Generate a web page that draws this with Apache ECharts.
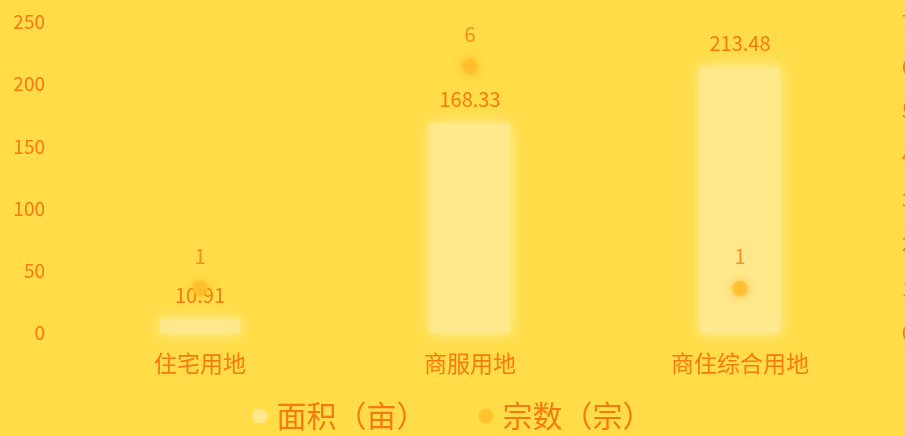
<!DOCTYPE html>
<html><head><meta charset="utf-8">
<script src="https://cdn.jsdelivr.net/npm/echarts@6/dist/echarts.min.js"></script>
<style>html,body{margin:0;padding:0;background:#FFDC48;}#c{width:905px;height:436px;}</style>
</head><body><div id="c"></div>
<script>
const categories = ['住宅用地', '商服用地', '商住综合用地'];
const areaValues = [10.91, 168.33, 213.48];
const countValues = [1, 6, 1];
const seriesNames = ['面积（亩）', '宗数（宗）'];
const textColor = '#F57A10';
const font = '"Noto Sans CJK SC", "Noto Sans", sans-serif';
const chart = echarts.init(document.getElementById('c'));
chart.setOption({
  backgroundColor: '#FFDC48',
  textStyle: { fontFamily: font },
  grid: { left: 65, right: 30, top: 22, bottom: 103, outerBoundsMode: 'none', containLabel: false },
  legend: {
    bottom: 0, left: 'center',
    itemGap: 52, itemWidth: 15, itemHeight: 15,
    icon: 'circle',
    textStyle: { color: textColor, fontSize: 30, fontFamily: font, padding: [0, 0, 0, 4] },
    data: seriesNames
  },
  xAxis: {
    type: 'category', data: categories,
    axisLine: { show: false }, axisTick: { show: false },
    axisLabel: { color: textColor, fontSize: 23, margin: 19, fontFamily: font }
  },
  yAxis: [{
    type: 'value', min: 0, max: 250, interval: 50,
    axisLine: { show: false }, axisTick: { show: false }, splitLine: { show: false },
    axisLabel: { color: textColor, fontSize: 19, margin: 20 }
  }, {
    type: 'value', min: 0, max: 7, interval: 1,
    axisLine: { show: false }, axisTick: { show: false }, splitLine: { show: false },
    axisLabel: { color: textColor, fontSize: 19, margin: 27 }
  }],
  series: [{
    name: seriesNames[0], type: 'bar', data: areaValues, barWidth: 80,
    itemStyle: { color: '#FFE88C', shadowColor: '#FFF3B0', shadowBlur: 14 },
    label: { show: true, position: 'top', distance: 14, color: textColor, fontSize: 20 }
  }, {
    name: seriesNames[1], type: 'scatter', yAxisIndex: 1, data: countValues,
    symbolSize: 15,
    itemStyle: { color: '#FFBE2A', shadowColor: '#FFA818', shadowBlur: 10 },
    label: { show: true, position: 'top', distance: 15, color: textColor, fontSize: 20 }
  }]
});
</script></body></html>
